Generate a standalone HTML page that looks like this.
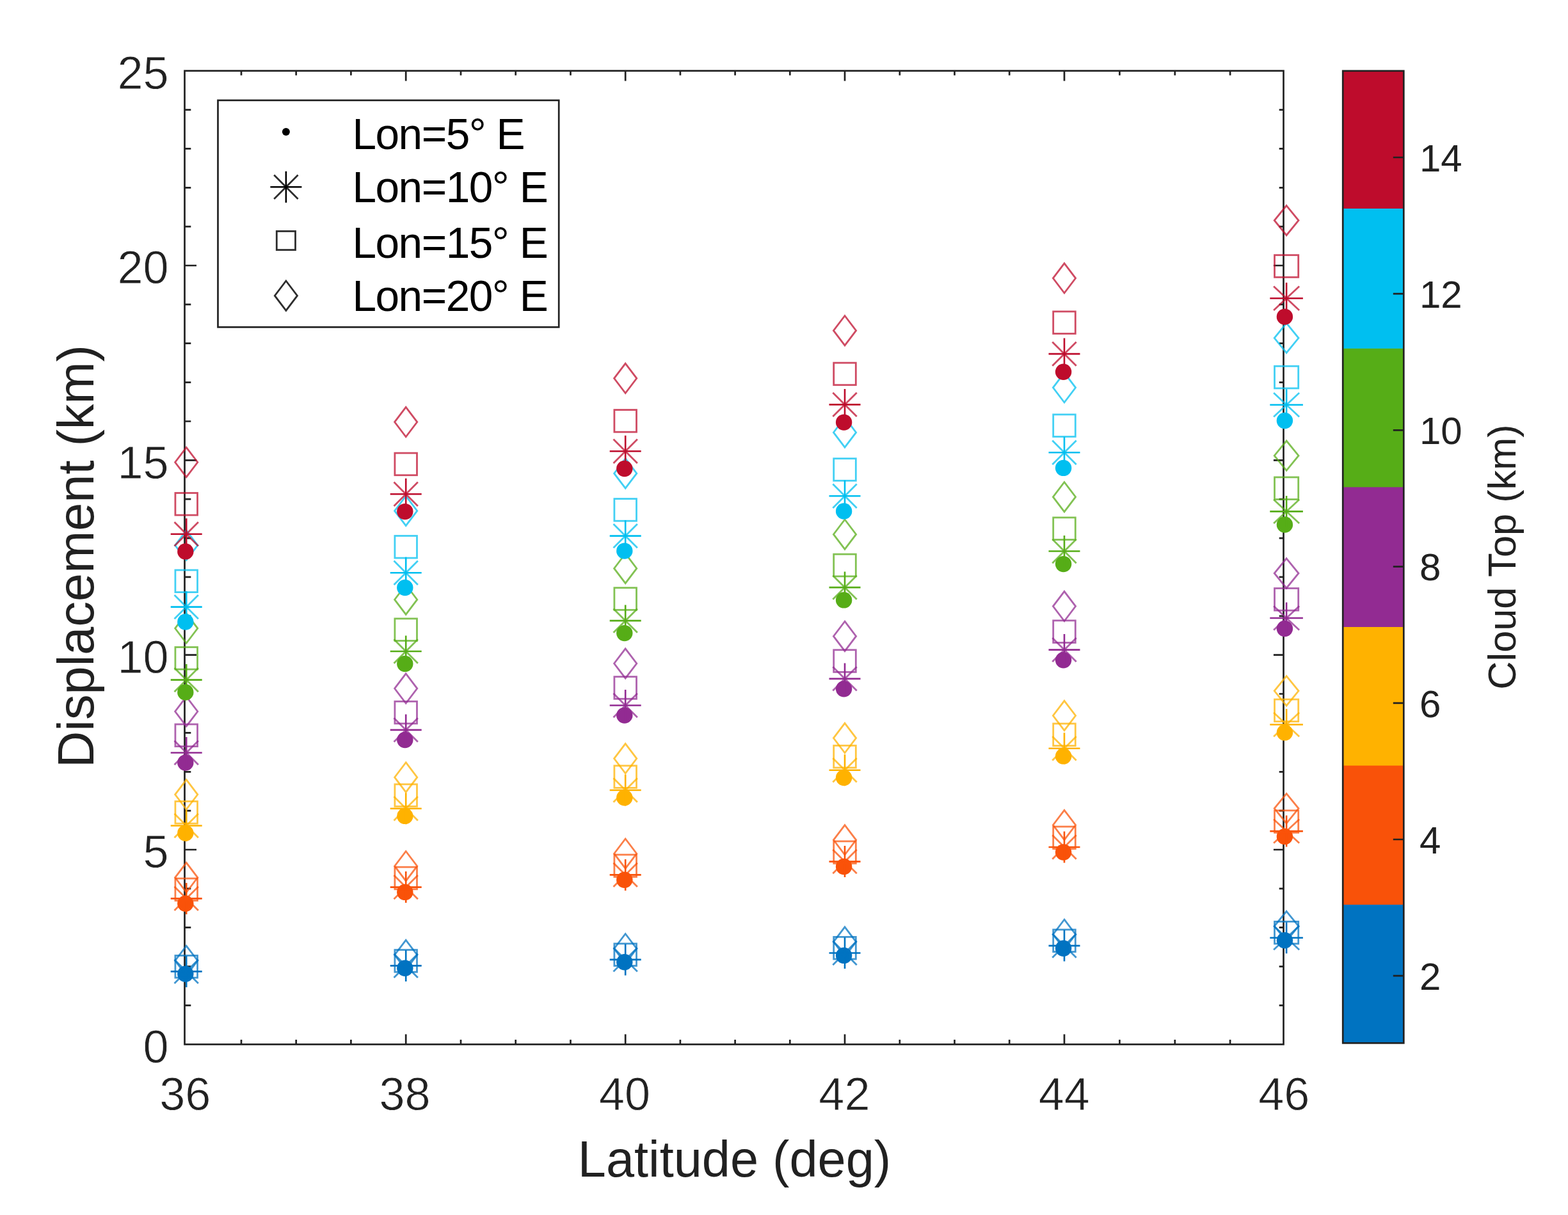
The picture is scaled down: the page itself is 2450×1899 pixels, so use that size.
<!DOCTYPE html>
<html lang="en"><head><meta charset="utf-8"><title>Displacement vs Latitude</title>
<style>html,body{margin:0;padding:0;background:#fff}body{width:2450px;height:1899px;overflow:hidden}svg{display:block;filter:blur(0.6px)}text{font-family:'Liberation Sans', sans-serif}</style>
</head><body>
<svg width="2450" height="1899" viewBox="0 0 2450 1899" role="img" aria-label="Displacement versus latitude scatter plot">
<rect width="2450" height="1899" fill="#fff"/>
<g id="axes" fill="none" stroke="#212121" stroke-width="2.7">
<rect x="288.5" y="110.7" width="1717" height="1521.6"/>
<path d="M377 1632.3v-7.4M377 110.7v7.1M462.7 1632.3v-7.4M462.7 110.7v7.1M548.4 1632.3v-7.4M548.4 110.7v7.1M634.2 1632.3v-15.8M634.2 110.7v15.9M720 1632.3v-7.4M720 110.7v7.1M805.7 1632.3v-7.4M805.7 110.7v7.1M891.5 1632.3v-7.4M891.5 110.7v7.1M977.2 1632.3v-15.8M977.2 110.7v15.9M1062.9 1632.3v-7.4M1062.9 110.7v7.1M1148.6 1632.3v-7.4M1148.6 110.7v7.1M1234.3 1632.3v-7.4M1234.3 110.7v7.1M1320 1632.3v-15.8M1320 110.7v15.9M1405.8 1632.3v-7.4M1405.8 110.7v7.1M1491.5 1632.3v-7.4M1491.5 110.7v7.1M1577.2 1632.3v-7.4M1577.2 110.7v7.1M1663 1632.3v-15.8M1663 110.7v15.9M1749.4 1632.3v-7.4M1749.4 110.7v7.1M1835.8 1632.3v-7.4M1835.8 110.7v7.1M1922.1 1632.3v-7.4M1922.1 110.7v7.1M288.5 1571.4h9.8M2005.5 1571.4h-6.8M288.5 1510.6h9.8M2005.5 1510.6h-6.8M288.5 1449.7h9.8M2005.5 1449.7h-6.8M288.5 1388.8h9.8M2005.5 1388.8h-6.8M288.5 1328h18.5M2005.5 1328h-15.6M288.5 1267.1h9.8M2005.5 1267.1h-6.8M288.5 1206.3h9.8M2005.5 1206.3h-6.8M288.5 1145.4h9.8M2005.5 1145.4h-6.8M288.5 1084.5h9.8M2005.5 1084.5h-6.8M288.5 1023.7h18.5M2005.5 1023.7h-15.6M288.5 962.8h9.8M2005.5 962.8h-6.8M288.5 901.9h9.8M2005.5 901.9h-6.8M288.5 841.1h9.8M2005.5 841.1h-6.8M288.5 780.2h9.8M2005.5 780.2h-6.8M288.5 719.3h18.5M2005.5 719.3h-15.6M288.5 658.5h9.8M2005.5 658.5h-6.8M288.5 597.6h9.8M2005.5 597.6h-6.8M288.5 536.7h9.8M2005.5 536.7h-6.8M288.5 475.9h9.8M2005.5 475.9h-6.8M288.5 415h18.5M2005.5 415h-15.6M288.5 354.2h9.8M2005.5 354.2h-6.8M288.5 293.3h9.8M2005.5 293.3h-6.8M288.5 232.4h9.8M2005.5 232.4h-6.8M288.5 171.6h9.8M2005.5 171.6h-6.8"/>
</g>
<g id="xticklabels" font-size="72.0" fill="#212121" stroke="#fff" stroke-width="0.8" text-anchor="middle">
<text x="289.2" y="1734.5">36</text>
<text x="632.6" y="1734.5">38</text>
<text x="976" y="1734.5">40</text>
<text x="1319.4" y="1734.5">42</text>
<text x="1662.8" y="1734.5">44</text>
<text x="2006.2" y="1734.5">46</text>
</g>
<g id="yticklabels" font-size="72.0" fill="#212121" stroke="#fff" stroke-width="0.8" text-anchor="end">
<text x="263.5" y="1660.6">0</text>
<text x="263.5" y="1356.3">5</text>
<text x="263.5" y="1052">10</text>
<text x="263.5" y="747.6">15</text>
<text x="263.5" y="443.3">20</text>
<text x="263.5" y="139">25</text>
</g>
<text x="1147.5" y="1838.7" font-size="79.3" fill="#212121" text-anchor="middle">Latitude (deg)</text>
<text transform="translate(145.5 869.5) rotate(-90)" font-size="79.3" fill="#212121" text-anchor="middle">Displacement (km)</text>
<g id="data" stroke-opacity="0.74">
<circle cx="289.8" cy="1522.2" r="12.7" fill="#0073C1"/>
<circle cx="632.8" cy="1513.3" r="12.7" fill="#0073C1"/>
<circle cx="975.8" cy="1503.8" r="12.7" fill="#0073C1"/>
<circle cx="1318.6" cy="1493.4" r="12.7" fill="#0073C1"/>
<circle cx="1661.6" cy="1482.2" r="12.7" fill="#0073C1"/>
<circle cx="2007.4" cy="1469.8" r="12.7" fill="#0073C1"/>
<path d="M266.7 1518.4h49M291.2 1493.9v49" fill="none" stroke="#0073C1" stroke-width="2.6" stroke-opacity="1"/><path d="M272.5 1499.7l37.4 37.4M272.5 1537.1l37.4 -37.4" fill="none" stroke="#0073C1" stroke-width="2.8"/>
<path d="M609.7 1509.4h49M634.2 1484.9v49" fill="none" stroke="#0073C1" stroke-width="2.6" stroke-opacity="1"/><path d="M615.5 1490.7l37.4 37.4M615.5 1528.1l37.4 -37.4" fill="none" stroke="#0073C1" stroke-width="2.8"/>
<path d="M952.7 1499.9h49M977.2 1475.4v49" fill="none" stroke="#0073C1" stroke-width="2.6" stroke-opacity="1"/><path d="M958.5 1481.2l37.4 37.4M958.5 1518.6l37.4 -37.4" fill="none" stroke="#0073C1" stroke-width="2.8"/>
<path d="M1295.5 1489.5h49M1320 1465v49" fill="none" stroke="#0073C1" stroke-width="2.6" stroke-opacity="1"/><path d="M1301.3 1470.8l37.4 37.4M1301.3 1508.2l37.4 -37.4" fill="none" stroke="#0073C1" stroke-width="2.8"/>
<path d="M1638.5 1478.1h49M1663 1453.6v49" fill="none" stroke="#0073C1" stroke-width="2.6" stroke-opacity="1"/><path d="M1644.3 1459.4l37.4 37.4M1644.3 1496.8l37.4 -37.4" fill="none" stroke="#0073C1" stroke-width="2.8"/>
<path d="M1984.3 1465.7h51.6M2010.1 1441.2v49" fill="none" stroke="#0073C1" stroke-width="2.6" stroke-opacity="1"/><path d="M1990.1 1447l40 37.4M1990.1 1484.4l40 -37.4" fill="none" stroke="#0073C1" stroke-width="2.8"/>
<rect x="273.9" y="1493.5" width="34.6" height="34.6" fill="none" stroke="#0073C1" stroke-width="2.8"/>
<rect x="616.9" y="1484.6" width="34.6" height="34.6" fill="none" stroke="#0073C1" stroke-width="2.8"/>
<rect x="959.9" y="1474.9" width="34.6" height="34.6" fill="none" stroke="#0073C1" stroke-width="2.8"/>
<rect x="1302.7" y="1464.4" width="34.6" height="34.6" fill="none" stroke="#0073C1" stroke-width="2.8"/>
<rect x="1645.7" y="1453" width="34.6" height="34.6" fill="none" stroke="#0073C1" stroke-width="2.8"/>
<rect x="1991.5" y="1440.4" width="37.2" height="34.6" fill="none" stroke="#0073C1" stroke-width="2.8"/>
<path d="M291.2 1478.3L308.8 1501.5L291.2 1524.7L273.6 1501.5Z" fill="none" stroke="#0073C1" stroke-width="2.8"/>
<path d="M634.2 1469.3L651.8 1492.5L634.2 1515.7L616.6 1492.5Z" fill="none" stroke="#0073C1" stroke-width="2.8"/>
<path d="M977.2 1459.5L994.8 1482.7L977.2 1505.9L959.6 1482.7Z" fill="none" stroke="#0073C1" stroke-width="2.8"/>
<path d="M1320 1448.9L1337.6 1472.1L1320 1495.3L1302.4 1472.1Z" fill="none" stroke="#0073C1" stroke-width="2.8"/>
<path d="M1663 1437.2L1680.6 1460.4L1663 1483.6L1645.4 1460.4Z" fill="none" stroke="#0073C1" stroke-width="2.8"/>
<path d="M2010.1 1424.3L2029 1447.5L2010.1 1470.7L1991.2 1447.5Z" fill="none" stroke="#0073C1" stroke-width="2.8"/>
<circle cx="289.8" cy="1412.2" r="12.7" fill="#F95209"/>
<circle cx="632.8" cy="1394.4" r="12.7" fill="#F95209"/>
<circle cx="975.8" cy="1375.2" r="12.7" fill="#F95209"/>
<circle cx="1318.6" cy="1354.5" r="12.7" fill="#F95209"/>
<circle cx="1661.6" cy="1332" r="12.7" fill="#F95209"/>
<circle cx="2007.4" cy="1307.4" r="12.7" fill="#F95209"/>
<path d="M266.7 1404.4h49M291.2 1379.9v49" fill="none" stroke="#F95209" stroke-width="2.6" stroke-opacity="1"/><path d="M272.5 1385.7l37.4 37.4M272.5 1423.1l37.4 -37.4" fill="none" stroke="#F95209" stroke-width="2.8"/>
<path d="M609.7 1386.6h49M634.2 1362.1v49" fill="none" stroke="#F95209" stroke-width="2.6" stroke-opacity="1"/><path d="M615.5 1367.9l37.4 37.4M615.5 1405.3l37.4 -37.4" fill="none" stroke="#F95209" stroke-width="2.8"/>
<path d="M952.7 1367.4h49M977.2 1342.9v49" fill="none" stroke="#F95209" stroke-width="2.6" stroke-opacity="1"/><path d="M958.5 1348.7l37.4 37.4M958.5 1386.1l37.4 -37.4" fill="none" stroke="#F95209" stroke-width="2.8"/>
<path d="M1295.5 1346.6h49M1320 1322.1v49" fill="none" stroke="#F95209" stroke-width="2.6" stroke-opacity="1"/><path d="M1301.3 1327.9l37.4 37.4M1301.3 1365.3l37.4 -37.4" fill="none" stroke="#F95209" stroke-width="2.8"/>
<path d="M1638.5 1324h49M1663 1299.5v49" fill="none" stroke="#F95209" stroke-width="2.6" stroke-opacity="1"/><path d="M1644.3 1305.3l37.4 37.4M1644.3 1342.7l37.4 -37.4" fill="none" stroke="#F95209" stroke-width="2.8"/>
<path d="M1984.3 1299.1h51.6M2010.1 1274.6v49" fill="none" stroke="#F95209" stroke-width="2.6" stroke-opacity="1"/><path d="M1990.1 1280.4l40 37.4M1990.1 1317.8l40 -37.4" fill="none" stroke="#F95209" stroke-width="2.8"/>
<rect x="273.9" y="1373" width="34.6" height="34.6" fill="none" stroke="#F95209" stroke-width="2.8"/>
<rect x="616.9" y="1355.2" width="34.6" height="34.6" fill="none" stroke="#F95209" stroke-width="2.8"/>
<rect x="959.9" y="1335.9" width="34.6" height="34.6" fill="none" stroke="#F95209" stroke-width="2.8"/>
<rect x="1302.7" y="1314.9" width="34.6" height="34.6" fill="none" stroke="#F95209" stroke-width="2.8"/>
<rect x="1645.7" y="1292" width="34.6" height="34.6" fill="none" stroke="#F95209" stroke-width="2.8"/>
<rect x="1991.5" y="1266.8" width="37.2" height="34.6" fill="none" stroke="#F95209" stroke-width="2.8"/>
<path d="M291.2 1348.4L308.8 1371.6L291.2 1394.8L273.6 1371.6Z" fill="none" stroke="#F95209" stroke-width="2.8"/>
<path d="M634.2 1330.5L651.8 1353.7L634.2 1376.9L616.6 1353.7Z" fill="none" stroke="#F95209" stroke-width="2.8"/>
<path d="M977.2 1311L994.8 1334.2L977.2 1357.4L959.6 1334.2Z" fill="none" stroke="#F95209" stroke-width="2.8"/>
<path d="M1320 1289.6L1337.6 1312.8L1320 1336L1302.4 1312.8Z" fill="none" stroke="#F95209" stroke-width="2.8"/>
<path d="M1663 1266.3L1680.6 1289.5L1663 1312.7L1645.4 1289.5Z" fill="none" stroke="#F95209" stroke-width="2.8"/>
<path d="M2010.1 1240.4L2029 1263.6L2010.1 1286.8L1991.2 1263.6Z" fill="none" stroke="#F95209" stroke-width="2.8"/>
<circle cx="289.8" cy="1302.1" r="12.7" fill="#FFB200"/>
<circle cx="632.8" cy="1275.4" r="12.7" fill="#FFB200"/>
<circle cx="975.8" cy="1246.7" r="12.7" fill="#FFB200"/>
<circle cx="1318.6" cy="1215.6" r="12.7" fill="#FFB200"/>
<circle cx="1661.6" cy="1181.9" r="12.7" fill="#FFB200"/>
<circle cx="2007.4" cy="1144.9" r="12.7" fill="#FFB200"/>
<path d="M266.7 1290.5h49M291.2 1266v49" fill="none" stroke="#FFB200" stroke-width="2.6" stroke-opacity="1"/><path d="M272.5 1271.8l37.4 37.4M272.5 1309.2l37.4 -37.4" fill="none" stroke="#FFB200" stroke-width="2.8"/>
<path d="M609.7 1263.7h49M634.2 1239.2v49" fill="none" stroke="#FFB200" stroke-width="2.6" stroke-opacity="1"/><path d="M615.5 1245l37.4 37.4M615.5 1282.4l37.4 -37.4" fill="none" stroke="#FFB200" stroke-width="2.8"/>
<path d="M952.7 1235h49M977.2 1210.5v49" fill="none" stroke="#FFB200" stroke-width="2.6" stroke-opacity="1"/><path d="M958.5 1216.3l37.4 37.4M958.5 1253.7l37.4 -37.4" fill="none" stroke="#FFB200" stroke-width="2.8"/>
<path d="M1295.5 1203.8h49M1320 1179.3v49" fill="none" stroke="#FFB200" stroke-width="2.6" stroke-opacity="1"/><path d="M1301.3 1185.1l37.4 37.4M1301.3 1222.5l37.4 -37.4" fill="none" stroke="#FFB200" stroke-width="2.8"/>
<path d="M1638.5 1169.8h49M1663 1145.3v49" fill="none" stroke="#FFB200" stroke-width="2.6" stroke-opacity="1"/><path d="M1644.3 1151.1l37.4 37.4M1644.3 1188.5l37.4 -37.4" fill="none" stroke="#FFB200" stroke-width="2.8"/>
<path d="M1984.3 1132.5h51.6M2010.1 1108v49" fill="none" stroke="#FFB200" stroke-width="2.6" stroke-opacity="1"/><path d="M1990.1 1113.8l40 37.4M1990.1 1151.2l40 -37.4" fill="none" stroke="#FFB200" stroke-width="2.8"/>
<rect x="273.9" y="1252.5" width="34.6" height="34.6" fill="none" stroke="#FFB200" stroke-width="2.8"/>
<rect x="616.9" y="1225.8" width="34.6" height="34.6" fill="none" stroke="#FFB200" stroke-width="2.8"/>
<rect x="959.9" y="1196.8" width="34.6" height="34.6" fill="none" stroke="#FFB200" stroke-width="2.8"/>
<rect x="1302.7" y="1165.3" width="34.6" height="34.6" fill="none" stroke="#FFB200" stroke-width="2.8"/>
<rect x="1645.7" y="1131" width="34.6" height="34.6" fill="none" stroke="#FFB200" stroke-width="2.8"/>
<rect x="1991.5" y="1093.1" width="37.2" height="34.6" fill="none" stroke="#FFB200" stroke-width="2.8"/>
<path d="M291.2 1218.6L308.8 1241.8L291.2 1265L273.6 1241.8Z" fill="none" stroke="#FFB200" stroke-width="2.8"/>
<path d="M634.2 1191.7L651.8 1214.9L634.2 1238.1L616.6 1214.9Z" fill="none" stroke="#FFB200" stroke-width="2.8"/>
<path d="M977.2 1162.4L994.8 1185.6L977.2 1208.8L959.6 1185.6Z" fill="none" stroke="#FFB200" stroke-width="2.8"/>
<path d="M1320 1130.4L1337.6 1153.6L1320 1176.8L1302.4 1153.6Z" fill="none" stroke="#FFB200" stroke-width="2.8"/>
<path d="M1663 1095.3L1680.6 1118.5L1663 1141.7L1645.4 1118.5Z" fill="none" stroke="#FFB200" stroke-width="2.8"/>
<path d="M2010.1 1056.6L2029 1079.8L2010.1 1103L1991.2 1079.8Z" fill="none" stroke="#FFB200" stroke-width="2.8"/>
<circle cx="289.8" cy="1192.1" r="12.7" fill="#922B92"/>
<circle cx="632.8" cy="1156.5" r="12.7" fill="#922B92"/>
<circle cx="975.8" cy="1118.1" r="12.7" fill="#922B92"/>
<circle cx="1318.6" cy="1076.7" r="12.7" fill="#922B92"/>
<circle cx="1661.6" cy="1031.7" r="12.7" fill="#922B92"/>
<circle cx="2007.4" cy="982.5" r="12.7" fill="#922B92"/>
<path d="M266.7 1176.5h49M291.2 1152v49" fill="none" stroke="#922B92" stroke-width="2.6" stroke-opacity="1"/><path d="M272.5 1157.8l37.4 37.4M272.5 1195.2l37.4 -37.4" fill="none" stroke="#922B92" stroke-width="2.8"/>
<path d="M609.7 1140.9h49M634.2 1116.4v49" fill="none" stroke="#922B92" stroke-width="2.6" stroke-opacity="1"/><path d="M615.5 1122.2l37.4 37.4M615.5 1159.6l37.4 -37.4" fill="none" stroke="#922B92" stroke-width="2.8"/>
<path d="M952.7 1102.5h49M977.2 1078v49" fill="none" stroke="#922B92" stroke-width="2.6" stroke-opacity="1"/><path d="M958.5 1083.8l37.4 37.4M958.5 1121.2l37.4 -37.4" fill="none" stroke="#922B92" stroke-width="2.8"/>
<path d="M1295.5 1060.9h49M1320 1036.4v49" fill="none" stroke="#922B92" stroke-width="2.6" stroke-opacity="1"/><path d="M1301.3 1042.2l37.4 37.4M1301.3 1079.6l37.4 -37.4" fill="none" stroke="#922B92" stroke-width="2.8"/>
<path d="M1638.5 1015.6h49M1663 991.1v49" fill="none" stroke="#922B92" stroke-width="2.6" stroke-opacity="1"/><path d="M1644.3 996.9l37.4 37.4M1644.3 1034.3l37.4 -37.4" fill="none" stroke="#922B92" stroke-width="2.8"/>
<path d="M1984.3 966h51.6M2010.1 941.5v49" fill="none" stroke="#922B92" stroke-width="2.6" stroke-opacity="1"/><path d="M1990.1 947.3l40 37.4M1990.1 984.7l40 -37.4" fill="none" stroke="#922B92" stroke-width="2.8"/>
<rect x="273.9" y="1132" width="34.6" height="34.6" fill="none" stroke="#922B92" stroke-width="2.8"/>
<rect x="616.9" y="1096.3" width="34.6" height="34.6" fill="none" stroke="#922B92" stroke-width="2.8"/>
<rect x="959.9" y="1057.7" width="34.6" height="34.6" fill="none" stroke="#922B92" stroke-width="2.8"/>
<rect x="1302.7" y="1015.8" width="34.6" height="34.6" fill="none" stroke="#922B92" stroke-width="2.8"/>
<rect x="1645.7" y="969.9" width="34.6" height="34.6" fill="none" stroke="#922B92" stroke-width="2.8"/>
<rect x="1991.5" y="919.5" width="37.2" height="34.6" fill="none" stroke="#922B92" stroke-width="2.8"/>
<path d="M291.2 1088.8L308.8 1112L291.2 1135.2L273.6 1112Z" fill="none" stroke="#922B92" stroke-width="2.8"/>
<path d="M634.2 1052.9L651.8 1076.1L634.2 1099.3L616.6 1076.1Z" fill="none" stroke="#922B92" stroke-width="2.8"/>
<path d="M977.2 1013.8L994.8 1037L977.2 1060.2L959.6 1037Z" fill="none" stroke="#922B92" stroke-width="2.8"/>
<path d="M1320 971.2L1337.6 994.4L1320 1017.6L1302.4 994.4Z" fill="none" stroke="#922B92" stroke-width="2.8"/>
<path d="M1663 924.4L1680.6 947.6L1663 970.8L1645.4 947.6Z" fill="none" stroke="#922B92" stroke-width="2.8"/>
<path d="M2010.1 872.8L2029 896L2010.1 919.2L1991.2 896Z" fill="none" stroke="#922B92" stroke-width="2.8"/>
<circle cx="289.8" cy="1082" r="12.7" fill="#56AD17"/>
<circle cx="632.8" cy="1037.5" r="12.7" fill="#56AD17"/>
<circle cx="975.8" cy="989.6" r="12.7" fill="#56AD17"/>
<circle cx="1318.6" cy="937.9" r="12.7" fill="#56AD17"/>
<circle cx="1661.6" cy="881.6" r="12.7" fill="#56AD17"/>
<circle cx="2007.4" cy="820" r="12.7" fill="#56AD17"/>
<path d="M266.7 1062.6h49M291.2 1038.1v49" fill="none" stroke="#56AD17" stroke-width="2.6" stroke-opacity="1"/><path d="M272.5 1043.9l37.4 37.4M272.5 1081.3l37.4 -37.4" fill="none" stroke="#56AD17" stroke-width="2.8"/>
<path d="M609.7 1018h49M634.2 993.5v49" fill="none" stroke="#56AD17" stroke-width="2.6" stroke-opacity="1"/><path d="M615.5 999.3l37.4 37.4M615.5 1036.7l37.4 -37.4" fill="none" stroke="#56AD17" stroke-width="2.8"/>
<path d="M952.7 970.1h49M977.2 945.6v49" fill="none" stroke="#56AD17" stroke-width="2.6" stroke-opacity="1"/><path d="M958.5 951.4l37.4 37.4M958.5 988.8l37.4 -37.4" fill="none" stroke="#56AD17" stroke-width="2.8"/>
<path d="M1295.5 918.1h49M1320 893.6v49" fill="none" stroke="#56AD17" stroke-width="2.6" stroke-opacity="1"/><path d="M1301.3 899.4l37.4 37.4M1301.3 936.8l37.4 -37.4" fill="none" stroke="#56AD17" stroke-width="2.8"/>
<path d="M1638.5 861.5h49M1663 837v49" fill="none" stroke="#56AD17" stroke-width="2.6" stroke-opacity="1"/><path d="M1644.3 842.8l37.4 37.4M1644.3 880.2l37.4 -37.4" fill="none" stroke="#56AD17" stroke-width="2.8"/>
<path d="M1984.3 799.4h51.6M2010.1 774.9v49" fill="none" stroke="#56AD17" stroke-width="2.6" stroke-opacity="1"/><path d="M1990.1 780.7l40 37.4M1990.1 818.1l40 -37.4" fill="none" stroke="#56AD17" stroke-width="2.8"/>
<rect x="273.9" y="1011.5" width="34.6" height="34.6" fill="none" stroke="#56AD17" stroke-width="2.8"/>
<rect x="616.9" y="966.9" width="34.6" height="34.6" fill="none" stroke="#56AD17" stroke-width="2.8"/>
<rect x="959.9" y="918.7" width="34.6" height="34.6" fill="none" stroke="#56AD17" stroke-width="2.8"/>
<rect x="1302.7" y="866.2" width="34.6" height="34.6" fill="none" stroke="#56AD17" stroke-width="2.8"/>
<rect x="1645.7" y="808.9" width="34.6" height="34.6" fill="none" stroke="#56AD17" stroke-width="2.8"/>
<rect x="1991.5" y="745.9" width="37.2" height="34.6" fill="none" stroke="#56AD17" stroke-width="2.8"/>
<path d="M291.2 958.9L308.8 982.1L291.2 1005.3L273.6 982.1Z" fill="none" stroke="#56AD17" stroke-width="2.8"/>
<path d="M634.2 914L651.8 937.2L634.2 960.4L616.6 937.2Z" fill="none" stroke="#56AD17" stroke-width="2.8"/>
<path d="M977.2 865.2L994.8 888.4L977.2 911.6L959.6 888.4Z" fill="none" stroke="#56AD17" stroke-width="2.8"/>
<path d="M1320 812L1337.6 835.2L1320 858.4L1302.4 835.2Z" fill="none" stroke="#56AD17" stroke-width="2.8"/>
<path d="M1663 753.5L1680.6 776.7L1663 799.9L1645.4 776.7Z" fill="none" stroke="#56AD17" stroke-width="2.8"/>
<path d="M2010.1 689L2029 712.2L2010.1 735.4L1991.2 712.2Z" fill="none" stroke="#56AD17" stroke-width="2.8"/>
<circle cx="289.8" cy="972" r="12.7" fill="#00BFF0"/>
<circle cx="632.8" cy="918.5" r="12.7" fill="#00BFF0"/>
<circle cx="975.8" cy="861.1" r="12.7" fill="#00BFF0"/>
<circle cx="1318.6" cy="799" r="12.7" fill="#00BFF0"/>
<circle cx="1661.6" cy="731.4" r="12.7" fill="#00BFF0"/>
<circle cx="2007.4" cy="657.5" r="12.7" fill="#00BFF0"/>
<path d="M266.7 948.6h49M291.2 924.1v49" fill="none" stroke="#00BFF0" stroke-width="2.6" stroke-opacity="1"/><path d="M272.5 929.9l37.4 37.4M272.5 967.3l37.4 -37.4" fill="none" stroke="#00BFF0" stroke-width="2.8"/>
<path d="M609.7 895.2h49M634.2 870.7v49" fill="none" stroke="#00BFF0" stroke-width="2.6" stroke-opacity="1"/><path d="M615.5 876.5l37.4 37.4M615.5 913.9l37.4 -37.4" fill="none" stroke="#00BFF0" stroke-width="2.8"/>
<path d="M952.7 837.6h49M977.2 813.1v49" fill="none" stroke="#00BFF0" stroke-width="2.6" stroke-opacity="1"/><path d="M958.5 818.9l37.4 37.4M958.5 856.3l37.4 -37.4" fill="none" stroke="#00BFF0" stroke-width="2.8"/>
<path d="M1295.5 775.2h49M1320 750.7v49" fill="none" stroke="#00BFF0" stroke-width="2.6" stroke-opacity="1"/><path d="M1301.3 756.5l37.4 37.4M1301.3 793.9l37.4 -37.4" fill="none" stroke="#00BFF0" stroke-width="2.8"/>
<path d="M1638.5 707.3h49M1663 682.8v49" fill="none" stroke="#00BFF0" stroke-width="2.6" stroke-opacity="1"/><path d="M1644.3 688.6l37.4 37.4M1644.3 726l37.4 -37.4" fill="none" stroke="#00BFF0" stroke-width="2.8"/>
<path d="M1984.3 632.8h51.6M2010.1 608.3v49" fill="none" stroke="#00BFF0" stroke-width="2.6" stroke-opacity="1"/><path d="M1990.1 614.1l40 37.4M1990.1 651.5l40 -37.4" fill="none" stroke="#00BFF0" stroke-width="2.8"/>
<rect x="273.9" y="891" width="34.6" height="34.6" fill="none" stroke="#00BFF0" stroke-width="2.8"/>
<rect x="616.9" y="837.5" width="34.6" height="34.6" fill="none" stroke="#00BFF0" stroke-width="2.8"/>
<rect x="959.9" y="779.6" width="34.6" height="34.6" fill="none" stroke="#00BFF0" stroke-width="2.8"/>
<rect x="1302.7" y="716.7" width="34.6" height="34.6" fill="none" stroke="#00BFF0" stroke-width="2.8"/>
<rect x="1645.7" y="647.9" width="34.6" height="34.6" fill="none" stroke="#00BFF0" stroke-width="2.8"/>
<rect x="1991.5" y="572.3" width="37.2" height="34.6" fill="none" stroke="#00BFF0" stroke-width="2.8"/>
<path d="M291.2 829.1L308.8 852.3L291.2 875.5L273.6 852.3Z" fill="none" stroke="#00BFF0" stroke-width="2.8"/>
<path d="M634.2 775.2L651.8 798.4L634.2 821.6L616.6 798.4Z" fill="none" stroke="#00BFF0" stroke-width="2.8"/>
<path d="M977.2 716.7L994.8 739.9L977.2 763.1L959.6 739.9Z" fill="none" stroke="#00BFF0" stroke-width="2.8"/>
<path d="M1320 652.7L1337.6 675.9L1320 699.1L1302.4 675.9Z" fill="none" stroke="#00BFF0" stroke-width="2.8"/>
<path d="M1663 582.6L1680.6 605.8L1663 629L1645.4 605.8Z" fill="none" stroke="#00BFF0" stroke-width="2.8"/>
<path d="M2010.1 505.1L2029 528.3L2010.1 551.5L1991.2 528.3Z" fill="none" stroke="#00BFF0" stroke-width="2.8"/>
<circle cx="289.8" cy="861.9" r="12.7" fill="#BE0C2C"/>
<circle cx="632.8" cy="799.6" r="12.7" fill="#BE0C2C"/>
<circle cx="975.8" cy="732.5" r="12.7" fill="#BE0C2C"/>
<circle cx="1318.6" cy="660.1" r="12.7" fill="#BE0C2C"/>
<circle cx="1661.6" cy="581.3" r="12.7" fill="#BE0C2C"/>
<circle cx="2007.4" cy="495.1" r="12.7" fill="#BE0C2C"/>
<path d="M266.7 834.7h49M291.2 810.2v49" fill="none" stroke="#BE0C2C" stroke-width="2.6" stroke-opacity="1"/><path d="M272.5 816l37.4 37.4M272.5 853.4l37.4 -37.4" fill="none" stroke="#BE0C2C" stroke-width="2.8"/>
<path d="M609.7 772.3h49M634.2 747.8v49" fill="none" stroke="#BE0C2C" stroke-width="2.6" stroke-opacity="1"/><path d="M615.5 753.6l37.4 37.4M615.5 791l37.4 -37.4" fill="none" stroke="#BE0C2C" stroke-width="2.8"/>
<path d="M952.7 705.2h49M977.2 680.7v49" fill="none" stroke="#BE0C2C" stroke-width="2.6" stroke-opacity="1"/><path d="M958.5 686.5l37.4 37.4M958.5 723.9l37.4 -37.4" fill="none" stroke="#BE0C2C" stroke-width="2.8"/>
<path d="M1295.5 632.4h49M1320 607.9v49" fill="none" stroke="#BE0C2C" stroke-width="2.6" stroke-opacity="1"/><path d="M1301.3 613.7l37.4 37.4M1301.3 651.1l37.4 -37.4" fill="none" stroke="#BE0C2C" stroke-width="2.8"/>
<path d="M1638.5 553.1h49M1663 528.6v49" fill="none" stroke="#BE0C2C" stroke-width="2.6" stroke-opacity="1"/><path d="M1644.3 534.4l37.4 37.4M1644.3 571.8l37.4 -37.4" fill="none" stroke="#BE0C2C" stroke-width="2.8"/>
<path d="M1984.3 466.2h51.6M2010.1 441.7v49" fill="none" stroke="#BE0C2C" stroke-width="2.6" stroke-opacity="1"/><path d="M1990.1 447.5l40 37.4M1990.1 484.9l40 -37.4" fill="none" stroke="#BE0C2C" stroke-width="2.8"/>
<rect x="273.9" y="770.5" width="34.6" height="34.6" fill="none" stroke="#BE0C2C" stroke-width="2.8"/>
<rect x="616.9" y="708.1" width="34.6" height="34.6" fill="none" stroke="#BE0C2C" stroke-width="2.8"/>
<rect x="959.9" y="640.6" width="34.6" height="34.6" fill="none" stroke="#BE0C2C" stroke-width="2.8"/>
<rect x="1302.7" y="567.1" width="34.6" height="34.6" fill="none" stroke="#BE0C2C" stroke-width="2.8"/>
<rect x="1645.7" y="486.9" width="34.6" height="34.6" fill="none" stroke="#BE0C2C" stroke-width="2.8"/>
<rect x="1991.5" y="398.7" width="37.2" height="34.6" fill="none" stroke="#BE0C2C" stroke-width="2.8"/>
<path d="M291.2 699.3L308.8 722.5L291.2 745.7L273.6 722.5Z" fill="none" stroke="#BE0C2C" stroke-width="2.8"/>
<path d="M634.2 636.4L651.8 659.6L634.2 682.8L616.6 659.6Z" fill="none" stroke="#BE0C2C" stroke-width="2.8"/>
<path d="M977.2 568.1L994.8 591.3L977.2 614.5L959.6 591.3Z" fill="none" stroke="#BE0C2C" stroke-width="2.8"/>
<path d="M1320 493.5L1337.6 516.7L1320 539.9L1302.4 516.7Z" fill="none" stroke="#BE0C2C" stroke-width="2.8"/>
<path d="M1663 411.6L1680.6 434.8L1663 458L1645.4 434.8Z" fill="none" stroke="#BE0C2C" stroke-width="2.8"/>
<path d="M2010.1 321.3L2029 344.5L2010.1 367.7L1991.2 344.5Z" fill="none" stroke="#BE0C2C" stroke-width="2.8"/>
</g>
<g id="legend" stroke-opacity="0.82">
<rect x="340.5" y="156.8" width="532.7" height="354.5" fill="#fff" stroke="#212121" stroke-width="2.7" stroke-opacity="1"/>
<circle cx="446.9" cy="205.9" r="6" fill="#000"/>
<text x="550.4" y="233" font-size="67.6" letter-spacing="-1.5" fill="#000">Lon=5° E</text>
<path d="M422.4 292.3h49M446.9 267.8v49" fill="none" stroke="#000" stroke-width="2.6" stroke-opacity="1"/><path d="M428.2 273.6l37.4 37.4M428.2 311l37.4 -37.4" fill="none" stroke="#000" stroke-width="2.8"/>
<text x="550.4" y="316" font-size="67.6" letter-spacing="-1.5" fill="#000">Lon=10° E</text>
<rect x="432.3" y="361.4" width="29.2" height="29.2" fill="none" stroke="#000" stroke-width="2.8"/>
<text x="550.4" y="402.7" font-size="67.6" letter-spacing="-1.5" fill="#000">Lon=15° E</text>
<path d="M446.9 439L464.5 462.2L446.9 485.4L429.3 462.2Z" fill="none" stroke="#000" stroke-width="2.8"/>
<text x="550.4" y="486" font-size="67.6" letter-spacing="-1.5" fill="#000">Lon=20° E</text>
</g>
<g id="colorbar">
<rect x="2098.2" y="1413.4" width="95.1" height="216.9" fill="#0073C1"/>
<rect x="2098.2" y="1196" width="95.1" height="218" fill="#F95209"/>
<rect x="2098.2" y="979.4" width="95.1" height="217.2" fill="#FFB200"/>
<rect x="2098.2" y="760.8" width="95.1" height="219.2" fill="#922B92"/>
<rect x="2098.2" y="544.1" width="95.1" height="217.3" fill="#56AD17"/>
<rect x="2098.2" y="325.4" width="95.1" height="219.3" fill="#00BFF0"/>
<rect x="2098.2" y="110.8" width="95.1" height="215.2" fill="#BE0C2C"/>
<rect x="2098.2" y="110.8" width="95.1" height="1519.5" fill="none" stroke="#212121" stroke-width="2.7"/>
<path d="M2193.3 1525.2h-16.5M2193.3 1312h-16.5M2193.3 1098.8h-16.5M2193.3 885.6h-16.5M2193.3 672.4h-16.5M2193.3 459.2h-16.5M2193.3 246h-16.5" fill="none" stroke="#212121" stroke-width="2.7"/>
<g font-size="60.0" fill="#212121">
<text x="2218" y="1547">2</text>
<text x="2218" y="1333.8">4</text>
<text x="2218" y="1120.6">6</text>
<text x="2218" y="907.4">8</text>
<text x="2218" y="694.2">10</text>
<text x="2218" y="481">12</text>
<text x="2218" y="267.8">14</text>
</g>
<text transform="translate(2368 870.5) rotate(-90)" font-size="61.3" fill="#212121" text-anchor="middle">Cloud Top (km)</text>
</g>
</svg>
</body></html>
